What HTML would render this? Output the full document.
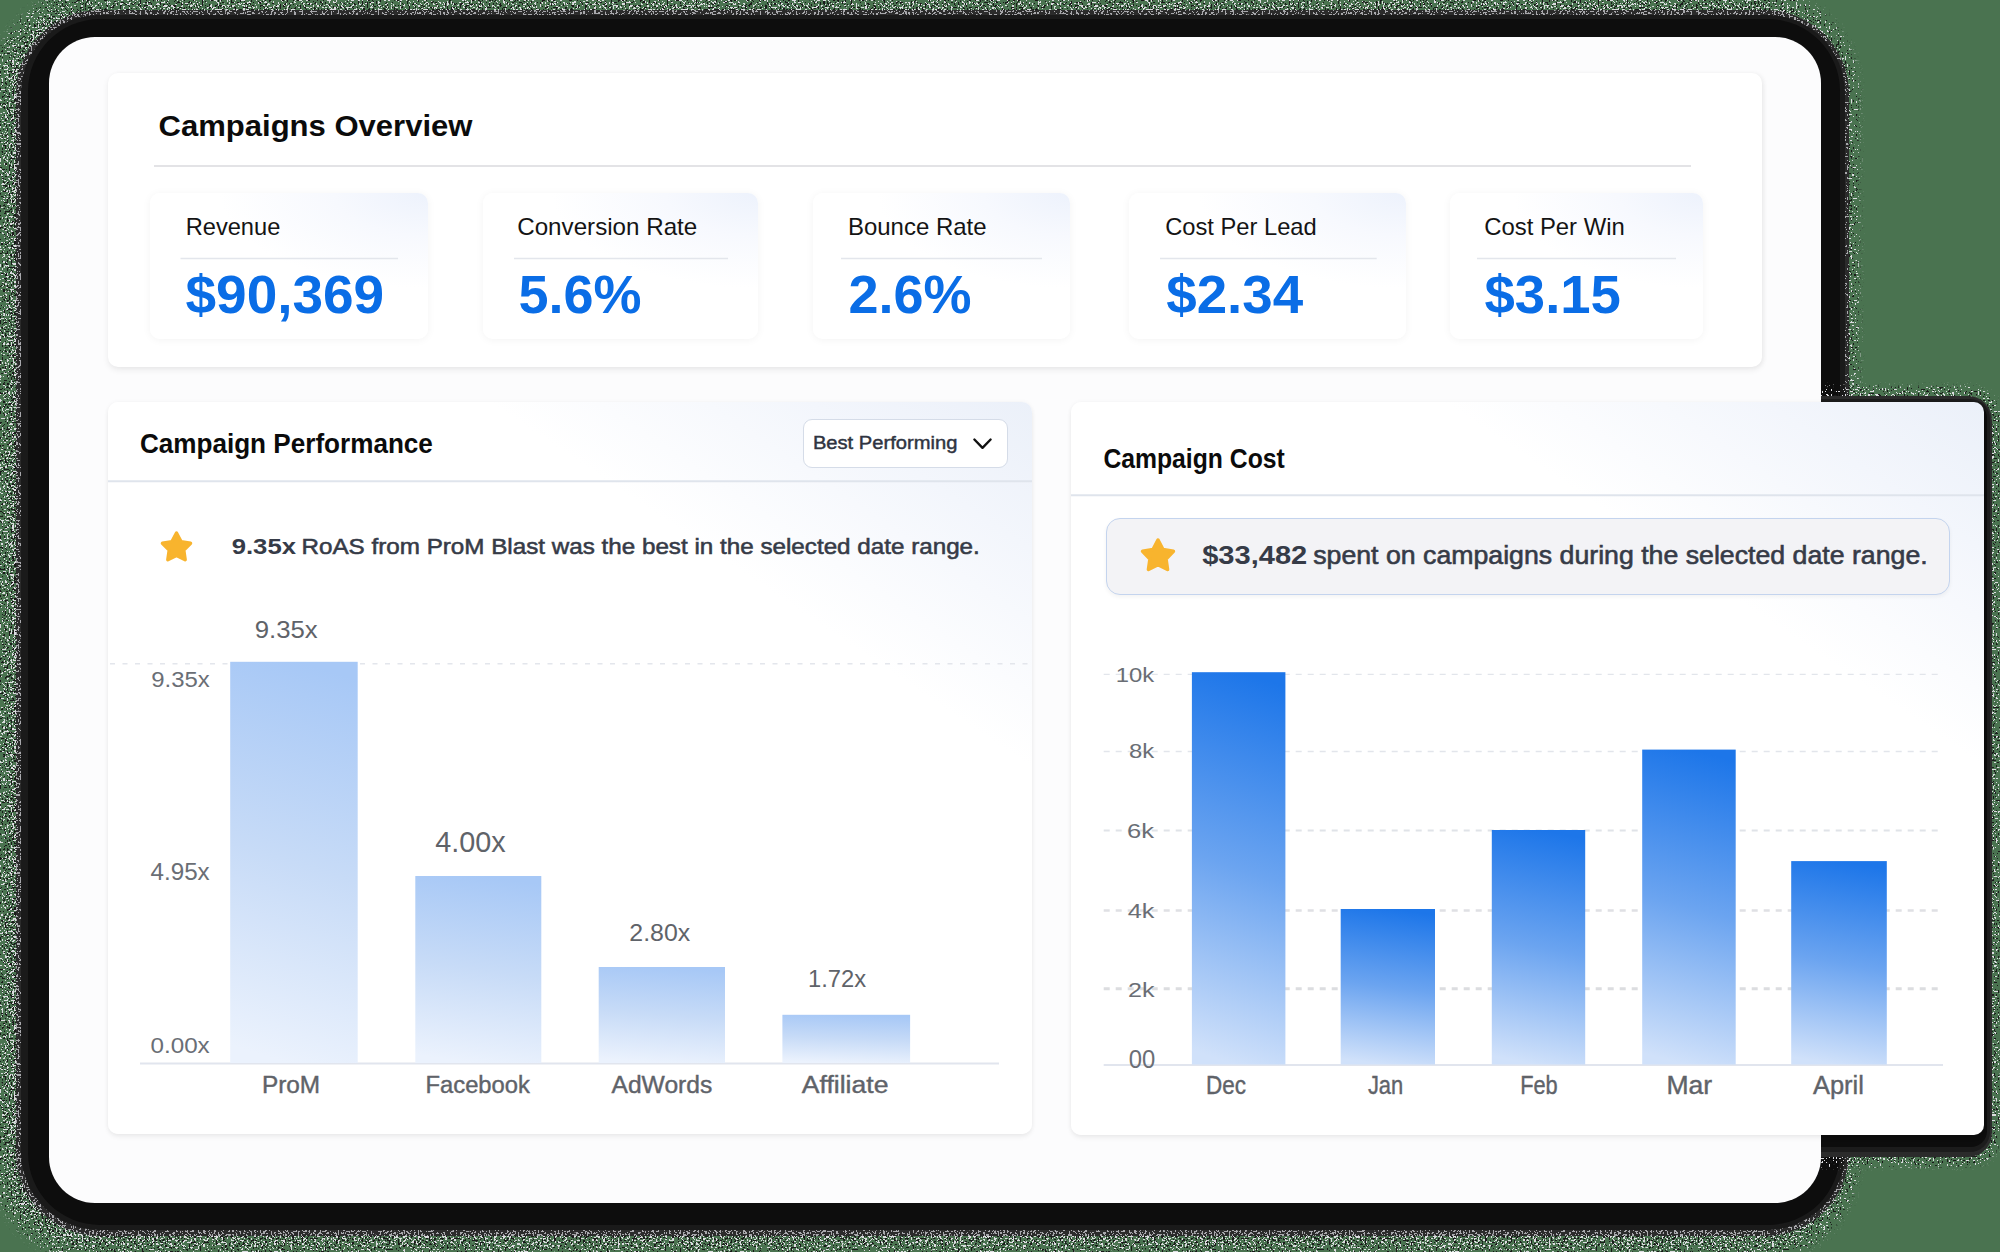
<!DOCTYPE html>
<html><head><meta charset="utf-8"><style>
html,body{margin:0;padding:0;}
body{width:2000px;height:1252px;overflow:hidden;position:relative;background:#4a7350;font-family:"Liberation Sans", sans-serif;}
.abs{position:absolute;}
#main{left:49px;top:37px;width:1772px;height:1166px;border-radius:46px;background:#fcfcfd;}
.card{background:#fff;border-radius:10px;}
#ov{left:108px;top:73px;width:1654px;height:294px;box-shadow:0 3px 6px rgba(0,0,0,.07), 2px 0 5px rgba(0,0,0,.04);}
.stat{top:193px;height:146px;border-radius:10px;background:radial-gradient(ellipse 75% 65% at 100% 0%,#edf2fc 0%,#f7f9fe 45%,#ffffff 100%);box-shadow:0 1px 8px rgba(0,0,0,.05);}
#perf{left:108px;top:402px;width:924px;height:732px;background:linear-gradient(214deg,#ebf0f9 0%,#f3f6fc 11%,#ffffff 27%);box-shadow:0 3px 5px rgba(0,0,0,.06), 0 0 5px rgba(0,0,0,.04);}
#cost{left:1071px;top:402px;width:913px;height:733px;background:linear-gradient(214deg,#ebf0f9 0%,#f3f6fc 11%,#ffffff 27%);box-shadow:0 3px 5px rgba(0,0,0,.06), 0 0 5px rgba(0,0,0,.04);}
#dd{left:803px;top:419px;width:205px;height:49px;border:1.5px solid #d5dce8;border-radius:9px;background:#fff;box-sizing:border-box;}
#hl{left:1106px;top:518px;width:844px;height:77px;border:1.6px solid #c4d4ee;border-radius:14px;background:#f3f3f6;box-sizing:border-box;box-shadow:0 2px 4px rgba(0,0,0,.05);}
svg{position:absolute;left:0;top:0;}
svg text{font-family:"Liberation Sans", sans-serif;}
</style></head><body>
<svg width="2000" height="1252" viewBox="0 0 2000 1252" style="position:absolute;left:0;top:0">
<defs>
<filter id="spw" filterUnits="userSpaceOnUse" x="0" y="0" width="2000" height="1252" color-interpolation-filters="sRGB">
<feGaussianBlur in="SourceAlpha" stdDeviation="8" result="prof"/>
<feTurbulence type="fractalNoise" baseFrequency="0.55" numOctaves="1" seed="11" result="n1"/>
<feColorMatrix in="n1" type="matrix" values="0 0 0 0 0 0 0 0 0 0 0 0 0 0 0 3 0 0 0 -1" result="na"/>
<feComposite in="na" in2="prof" operator="arithmetic" k1="0" k2="40" k3="16" k4="-40" result="m"/>
<feFlood flood-color="#dcdce0"/>
<feComposite in2="m" operator="in"/>
</filter>
<filter id="spw3" filterUnits="userSpaceOnUse" x="0" y="0" width="2000" height="1252" color-interpolation-filters="sRGB">
<feGaussianBlur in="SourceAlpha" stdDeviation="8" result="prof"/>
<feTurbulence type="fractalNoise" baseFrequency="0.55" numOctaves="1" seed="41" result="n1"/>
<feColorMatrix in="n1" type="matrix" values="0 0 0 0 0 0 0 0 0 0 0 0 0 0 0 3 0 0 0 -1" result="na"/>
<feComposite in="na" in2="prof" operator="arithmetic" k1="0" k2="40" k3="13" k4="-40" result="m"/>
<feFlood flood-color="#a8a8ac"/>
<feComposite in2="m" operator="in"/>
</filter>
<clipPath id="cband"><rect x="16" y="10" width="1833" height="1226" rx="84"/></clipPath>
<filter id="spb" filterUnits="userSpaceOnUse" x="0" y="0" width="2000" height="1252" color-interpolation-filters="sRGB">
<feGaussianBlur in="SourceAlpha" stdDeviation="8" result="prof"/>
<feTurbulence type="fractalNoise" baseFrequency="0.55" numOctaves="1" seed="29" result="n1"/>
<feColorMatrix in="n1" type="matrix" values="0 0 0 0 0 0 0 0 0 0 0 0 0 0 0 3 0 0 0 -1" result="na"/>
<feComposite in="na" in2="prof" operator="arithmetic" k1="0" k2="40" k3="12" k4="-40" result="m"/>
<feFlood flood-color="#1a1a1a"/>
<feComposite in2="m" operator="in"/>
</filter>
<filter id="spw2" filterUnits="userSpaceOnUse" x="0" y="0" width="2000" height="1252" color-interpolation-filters="sRGB">
<feGaussianBlur in="SourceAlpha" stdDeviation="6" result="prof"/>
<feTurbulence type="fractalNoise" baseFrequency="0.55" numOctaves="1" seed="5" result="n1"/>
<feColorMatrix in="n1" type="matrix" values="0 0 0 0 0 0 0 0 0 0 0 0 0 0 0 3 0 0 0 -1" result="na"/>
<feComposite in="na" in2="prof" operator="arithmetic" k1="0" k2="40" k3="20" k4="-40" result="m"/>
<feFlood flood-color="#dcdce0"/>
<feComposite in2="m" operator="in"/>
</filter>
<filter id="spb2" filterUnits="userSpaceOnUse" x="0" y="0" width="2000" height="1252" color-interpolation-filters="sRGB">
<feGaussianBlur in="SourceAlpha" stdDeviation="6" result="prof"/>
<feTurbulence type="fractalNoise" baseFrequency="0.55" numOctaves="1" seed="17" result="n1"/>
<feColorMatrix in="n1" type="matrix" values="0 0 0 0 0 0 0 0 0 0 0 0 0 0 0 3 0 0 0 -1" result="na"/>
<feComposite in="na" in2="prof" operator="arithmetic" k1="0" k2="40" k3="14" k4="-40" result="m"/>
<feFlood flood-color="#1a1a1a"/>
<feComposite in2="m" operator="in"/>
</filter>
</defs>
<rect x="4" y="2" width="1842" height="1246" rx="88" fill="#000" filter="url(#spw)"/>
<rect x="4" y="2" width="1842" height="1246" rx="88" fill="#000" filter="url(#spb)"/>
<rect x="16" y="10" width="1833" height="1226" rx="84" fill="#2b2b2b"/>
<g clip-path="url(#cband)"><rect x="4" y="2" width="1842" height="1246" rx="88" fill="#000" filter="url(#spw3)"/></g>
<rect x="21" y="15" width="1824" height="1215" rx="78" fill="#1a1a1a"/>
<rect x="28" y="19" width="1812" height="1206" rx="72" fill="#0d0d0d"/>
<rect x="1050" y="396" width="942" height="761" rx="24" fill="#000" filter="url(#spw2)"/>
<rect x="1050" y="396" width="942" height="761" rx="24" fill="#000" filter="url(#spb2)"/>
<rect x="1050" y="396" width="942" height="761" rx="24" fill="#2b2b2b"/>
<rect x="1052" y="399" width="938" height="753" rx="20" fill="#1c1c1c"/>
<rect x="1055" y="402" width="932" height="745" rx="16" fill="#0d0d0d"/>
</svg>
<div class="abs" id="main"></div>
<div class="abs card" id="ov"></div>
<div class="abs stat" style="left:150px;width:278px"></div>
<div class="abs stat" style="left:483px;width:275px"></div>
<div class="abs stat" style="left:813px;width:257px"></div>
<div class="abs stat" style="left:1129px;width:277px"></div>
<div class="abs stat" style="left:1450px;width:253px"></div>
<div class="abs card" id="perf"></div>
<div class="abs card" id="cost"></div>
<div class="abs" id="dd"></div>
<div class="abs" id="hl"></div>
<svg width="2000" height="1252" viewBox="0 0 2000 1252">
<defs>
<linearGradient id="gl" x1="0.55" y1="0" x2="0.45" y2="1">
<stop offset="0" stop-color="#a7c8f6"/><stop offset="0.5" stop-color="#c7dbf7"/><stop offset="1" stop-color="#ebf2fd"/></linearGradient>
<linearGradient id="gr" x1="0.54" y1="0" x2="0.46" y2="1">
<stop offset="0" stop-color="#1d76e9"/><stop offset="0.5" stop-color="#6ba4f0"/><stop offset="1" stop-color="#d0e1fa"/></linearGradient>
</defs>
<line x1="154" y1="166" x2="1691" y2="166" stroke="#e3e3e6" stroke-width="2"/>
<line x1="180.5" y1="258.5" x2="398" y2="258.5" stroke="#e3e6ec" stroke-width="1.5"/>
<line x1="514" y1="258.5" x2="728" y2="258.5" stroke="#e3e6ec" stroke-width="1.5"/>
<line x1="841" y1="258.5" x2="1042" y2="258.5" stroke="#e3e6ec" stroke-width="1.5"/>
<line x1="1160" y1="258.5" x2="1376.7" y2="258.5" stroke="#e3e6ec" stroke-width="1.5"/>
<line x1="1477" y1="258.5" x2="1676" y2="258.5" stroke="#e3e6ec" stroke-width="1.5"/>
<line x1="108" y1="481.3" x2="1032" y2="481.3" stroke="#dfe4ec" stroke-width="2"/>
<line x1="1071" y1="495.3" x2="1984" y2="495.3" stroke="#dfe4ec" stroke-width="2"/>
<line x1="110" y1="663.7" x2="1032" y2="663.7" stroke="#e3e6ec" stroke-width="1.4" stroke-dasharray="5 7.5"/>
<line x1="140" y1="1063.5" x2="999" y2="1063.5" stroke="#e1e5ee" stroke-width="2"/>
<line x1="1103.7" y1="674.3" x2="1943" y2="674.3" stroke="#e2e5eb" stroke-width="1.3" stroke-dasharray="6 6"/>
<line x1="1103.7" y1="751.6" x2="1943" y2="751.6" stroke="#e2e5eb" stroke-width="1.5" stroke-dasharray="6 6"/>
<line x1="1103.7" y1="830.6" x2="1943" y2="830.6" stroke="#e0e3e8" stroke-width="2" stroke-dasharray="6 6"/>
<line x1="1103.7" y1="910.5" x2="1943" y2="910.5" stroke="#dfe0e4" stroke-width="2.6" stroke-dasharray="6 6"/>
<line x1="1103.7" y1="988.8" x2="1943" y2="988.8" stroke="#dcdde0" stroke-width="3" stroke-dasharray="6 6"/>
<line x1="1103.7" y1="1065.0" x2="1943" y2="1065.0" stroke="#e1e5ee" stroke-width="2"/>
<rect x="230.2" y="661.8" width="127.5" height="401.2" fill="url(#gl)"/>
<rect x="415.3" y="876" width="126.0" height="187.0" fill="url(#gl)"/>
<rect x="598.7" y="967" width="126.3" height="96.0" fill="url(#gl)"/>
<rect x="782.4" y="1014.8" width="127.7" height="48.2" fill="url(#gl)"/>
<rect x="1191.9" y="672.2" width="93.5" height="392.3" fill="url(#gr)"/>
<rect x="1340.7" y="909" width="94.3" height="155.5" fill="url(#gr)"/>
<rect x="1491.8" y="830" width="93.4" height="234.5" fill="url(#gr)"/>
<rect x="1642.2" y="749.6" width="93.5" height="314.9" fill="url(#gr)"/>
<rect x="1791.2" y="861.1" width="95.6" height="203.4" fill="url(#gr)"/>
<polygon points="176.50,533.00 181.02,541.57 190.58,543.23 183.82,550.18 185.20,559.77 176.50,555.50 167.80,559.77 169.18,550.18 162.42,543.23 171.98,541.57" fill="#f8b42e" stroke="#f8b42e" stroke-width="3.40" stroke-linejoin="round"/>
<polygon points="1158.00,540.10 1162.95,549.48 1173.41,551.29 1166.01,558.90 1167.52,569.41 1158.00,564.72 1148.48,569.41 1149.99,558.90 1142.59,551.29 1153.05,549.48" fill="#f8b42e" stroke="#f8b42e" stroke-width="3.60" stroke-linejoin="round"/>
<polyline points="974.4,439.5 982.5,447.8 990.6,439.5" fill="none" stroke="#111" stroke-width="2.4" stroke-linecap="round" stroke-linejoin="round"/>
<text x="158.5" y="136.0" font-size="30.4" font-weight="bold" fill="#0b0b0b" textLength="314.0" lengthAdjust="spacingAndGlyphs">Campaigns Overview</text>
<text x="185.7" y="235.0" font-size="23.6" font-weight="normal" fill="#141414" textLength="94.6" lengthAdjust="spacingAndGlyphs">Revenue</text>
<text x="517.2" y="235.0" font-size="23.6" font-weight="normal" fill="#141414" textLength="180.1" lengthAdjust="spacingAndGlyphs">Conversion Rate</text>
<text x="848.0" y="235.0" font-size="23.6" font-weight="normal" fill="#141414" textLength="138.5" lengthAdjust="spacingAndGlyphs">Bounce Rate</text>
<text x="1165.2" y="235.0" font-size="23.6" font-weight="normal" fill="#141414" textLength="151.5" lengthAdjust="spacingAndGlyphs">Cost Per Lead</text>
<text x="1484.2" y="235.0" font-size="23.6" font-weight="normal" fill="#141414" textLength="140.6" lengthAdjust="spacingAndGlyphs">Cost Per Win</text>
<text x="185.5" y="313.2" font-size="54.3" font-weight="bold" fill="#0a6de6" textLength="198.7" lengthAdjust="spacingAndGlyphs">$90,369</text>
<text x="518.5" y="313.2" font-size="54.3" font-weight="bold" fill="#0a6de6" textLength="123.0" lengthAdjust="spacingAndGlyphs">5.6%</text>
<text x="848.5" y="313.2" font-size="54.3" font-weight="bold" fill="#0a6de6" textLength="123.0" lengthAdjust="spacingAndGlyphs">2.6%</text>
<text x="1166.2" y="313.2" font-size="54.3" font-weight="bold" fill="#0a6de6" textLength="137.0" lengthAdjust="spacingAndGlyphs">$2.34</text>
<text x="1484.5" y="313.2" font-size="54.3" font-weight="bold" fill="#0a6de6" textLength="136.4" lengthAdjust="spacingAndGlyphs">$3.15</text>
<text x="139.9" y="452.5" font-size="27.5" font-weight="bold" fill="#0b0b0b" textLength="293.0" lengthAdjust="spacingAndGlyphs">Campaign Performance</text>
<text x="812.9" y="448.6" font-size="19.1" font-weight="normal" fill="#2f3441" stroke="#2f3441" stroke-width="0.45" textLength="144.5" lengthAdjust="spacingAndGlyphs">Best Performing</text>
<text x="231.7" y="554.2" font-size="22.5" font-weight="bold" fill="#363b47" textLength="64.3" lengthAdjust="spacingAndGlyphs">9.35x</text>
<text x="301.5" y="554.2" font-size="22.5" font-weight="normal" fill="#363b47" stroke="#363b47" stroke-width="0.55" textLength="678.3" lengthAdjust="spacingAndGlyphs">RoAS from ProM Blast was the best in the selected date range.</text>
<text x="254.7" y="637.5" font-size="24.7" font-weight="normal" fill="#5f6369" textLength="63.0" lengthAdjust="spacingAndGlyphs">9.35x</text>
<text x="435.3" y="852.2" font-size="29.4" font-weight="normal" fill="#5f6369" textLength="70.4" lengthAdjust="spacingAndGlyphs">4.00x</text>
<text x="629.3" y="941.3" font-size="24" font-weight="normal" fill="#5f6369" textLength="60.9" lengthAdjust="spacingAndGlyphs">2.80x</text>
<text x="808.0" y="986.8" font-size="24" font-weight="normal" fill="#5f6369" textLength="58.1" lengthAdjust="spacingAndGlyphs">1.72x</text>
<text x="151.2" y="686.7" font-size="22.9" font-weight="normal" fill="#6a6e75" textLength="58.5" lengthAdjust="spacingAndGlyphs">9.35x</text>
<text x="150.5" y="880.0" font-size="23.4" font-weight="normal" fill="#6a6e75" textLength="59.2" lengthAdjust="spacingAndGlyphs">4.95x</text>
<text x="150.5" y="1052.6" font-size="22.6" font-weight="normal" fill="#6a6e75" textLength="59.2" lengthAdjust="spacingAndGlyphs">0.00x</text>
<text x="261.9" y="1092.5" font-size="23.5" font-weight="normal" fill="#5f6369" stroke="#5f6369" stroke-width="0.4" textLength="58.3" lengthAdjust="spacingAndGlyphs">ProM</text>
<text x="425.5" y="1092.5" font-size="23.5" font-weight="normal" fill="#5f6369" stroke="#5f6369" stroke-width="0.4" textLength="104.4" lengthAdjust="spacingAndGlyphs">Facebook</text>
<text x="611.5" y="1092.5" font-size="23.5" font-weight="normal" fill="#5f6369" stroke="#5f6369" stroke-width="0.4" textLength="100.8" lengthAdjust="spacingAndGlyphs">AdWords</text>
<text x="801.8" y="1092.5" font-size="23.5" font-weight="normal" fill="#5f6369" stroke="#5f6369" stroke-width="0.4" textLength="86.6" lengthAdjust="spacingAndGlyphs">Affiliate</text>
<text x="1103.4" y="468.0" font-size="26.8" font-weight="bold" fill="#0b0b0b" textLength="181.4" lengthAdjust="spacingAndGlyphs">Campaign Cost</text>
<text x="1202.2" y="563.8" font-size="25.8" font-weight="bold" fill="#363b47" textLength="105.1" lengthAdjust="spacingAndGlyphs">$33,482</text>
<text x="1313.2" y="563.8" font-size="25.8" font-weight="normal" fill="#363b47" stroke="#363b47" stroke-width="0.6" textLength="614.5" lengthAdjust="spacingAndGlyphs">spent on campaigns during the selected date range.</text>
<text x="1115.7" y="682.2" font-size="21.1" font-weight="normal" fill="#6a6e75" textLength="38.4" lengthAdjust="spacingAndGlyphs">10k</text>
<text x="1128.9" y="758.2" font-size="21.1" font-weight="normal" fill="#6a6e75" textLength="25.2" lengthAdjust="spacingAndGlyphs">8k</text>
<text x="1127.1" y="837.6" font-size="21.1" font-weight="normal" fill="#6a6e75" textLength="27.0" lengthAdjust="spacingAndGlyphs">6k</text>
<text x="1127.7" y="918.0" font-size="21.1" font-weight="normal" fill="#6a6e75" textLength="26.6" lengthAdjust="spacingAndGlyphs">4k</text>
<text x="1128.0" y="997.0" font-size="21.1" font-weight="normal" fill="#6a6e75" textLength="26.5" lengthAdjust="spacingAndGlyphs">2k</text>
<text x="1128.8" y="1067.8" font-size="25" font-weight="normal" fill="#6a6e75" textLength="26.5" lengthAdjust="spacingAndGlyphs">00</text>
<text x="1206.0" y="1093.7" font-size="25" font-weight="normal" fill="#5f6369" stroke="#5f6369" stroke-width="0.4" textLength="39.9" lengthAdjust="spacingAndGlyphs">Dec</text>
<text x="1367.9" y="1093.7" font-size="25" font-weight="normal" fill="#5f6369" stroke="#5f6369" stroke-width="0.4" textLength="35.3" lengthAdjust="spacingAndGlyphs">Jan</text>
<text x="1520.2" y="1093.7" font-size="25" font-weight="normal" fill="#5f6369" stroke="#5f6369" stroke-width="0.4" textLength="37.5" lengthAdjust="spacingAndGlyphs">Feb</text>
<text x="1666.5" y="1093.7" font-size="25" font-weight="normal" fill="#5f6369" stroke="#5f6369" stroke-width="0.4" textLength="45.7" lengthAdjust="spacingAndGlyphs">Mar</text>
<text x="1813.0" y="1093.7" font-size="25" font-weight="normal" fill="#5f6369" stroke="#5f6369" stroke-width="0.4" textLength="50.9" lengthAdjust="spacingAndGlyphs">April</text>
</svg>
</body></html>
